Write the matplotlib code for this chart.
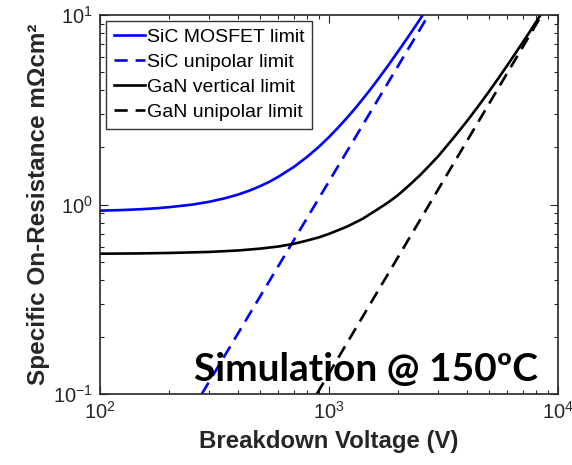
import numpy as np
import matplotlib
matplotlib.use("Agg")
import matplotlib.pyplot as plt

plt.rcParams['font.family'] = ['Liberation Sans', 'DejaVu Sans']
plt.rcParams['mathtext.default'] = 'regular'

# values (V in volts, R in mOhm cm^2)
sic_mos_v = [100, 125, 150, 175, 200, 250, 300, 350, 400, 450, 500, 550, 600, 700,
             800, 900, 1000, 1100, 1200, 1300, 1400, 1500, 1600, 1800, 2000, 2200,
             2400, 2650]
sic_mos_r = [0.928, 0.935, 0.944, 0.955, 0.968, 0.997, 1.034, 1.078, 1.128, 1.185,
             1.25, 1.32, 1.40, 1.575, 1.78, 2.01, 2.27, 2.56, 2.875, 3.215, 3.59,
             3.985, 4.415, 5.355, 6.415, 7.575, 8.845, 10.6]

sic_uni_v = [278, 2720]
sic_uni_r = [0.1, 10]

gan_vert_v = [100, 150, 200, 300, 400, 500, 600, 700, 800, 900, 1000, 1200, 1400,
              1600, 1800, 2000, 2250, 2500, 2750, 3000, 3500, 4000, 4500, 5000,
              5500, 6000, 6500, 7000, 7500, 8000, 8600]
gan_vert_r = [0.55, 0.552, 0.555, 0.562, 0.572, 0.585, 0.60, 0.62, 0.645, 0.67,
              0.70, 0.765, 0.84, 0.93, 1.02, 1.12, 1.27, 1.43, 1.61, 1.80, 2.25,
              2.75, 3.32, 3.95, 4.65, 5.42, 6.25, 7.15, 8.1, 9.15, 10.5]

gan_uni_v = [884, 8490]
gan_uni_r = [0.1, 10]

dark = '0.15'

fig = plt.figure(figsize=(5.72, 4.65), dpi=100)
ax = fig.add_axes([0.175, 0.1527, 0.8005, 0.815])

ax.plot(sic_mos_v, sic_mos_r, color='#0000ff', lw=1.9, label='SiC MOSFET limit')
ax.plot(sic_uni_v, sic_uni_r, color='#0000ff', lw=1.9, dashes=(5, 3), label='SiC unipolar limit')
ax.plot(gan_vert_v, gan_vert_r, color='black', lw=1.9, label='GaN vertical limit')
ax.plot(gan_uni_v, gan_uni_r, color='black', lw=1.9, dashes=(5, 3), label='GaN unipolar limit')

ax.set_xscale('log')
ax.set_yscale('log')
ax.set_xlim(1e2, 1e4)
ax.set_ylim(1e-1, 1e1)

for s in ax.spines.values():
    s.set_color(dark)
    s.set_linewidth(1.2)
ax.tick_params(which='both', direction='in', top=True, right=True, colors=dark,
               labelsize=14.5, width=0.8)
ax.tick_params(which='major', length=6, pad=5)
ax.tick_params(which='minor', length=3)

ax.set_xlabel('Breakdown Voltage (V)', fontsize=17.3, fontweight='bold', color=dark, labelpad=5)
ax.set_ylabel('Specific On-Resistance m\u03a9cm\u00b2', fontsize=17.5, fontweight='bold',
              color=dark, labelpad=2)

leg = ax.legend(loc='upper left', fontsize=14, frameon=True, fancybox=False,
                edgecolor='black', handlelength=1.6, handletextpad=0.1,
                borderpad=0.4, labelspacing=0.38, borderaxespad=0.3)
leg.get_frame().set_linewidth(1.0)

ax.text(0.956, 0.034, 'Simulation @ 150\u00baC', transform=ax.transAxes,
        ha='right', va='baseline', fontsize=28, fontweight='bold',
        family=['Lato', 'DejaVu Sans'], color='black')

fig.savefig('out.png', dpi=100)
